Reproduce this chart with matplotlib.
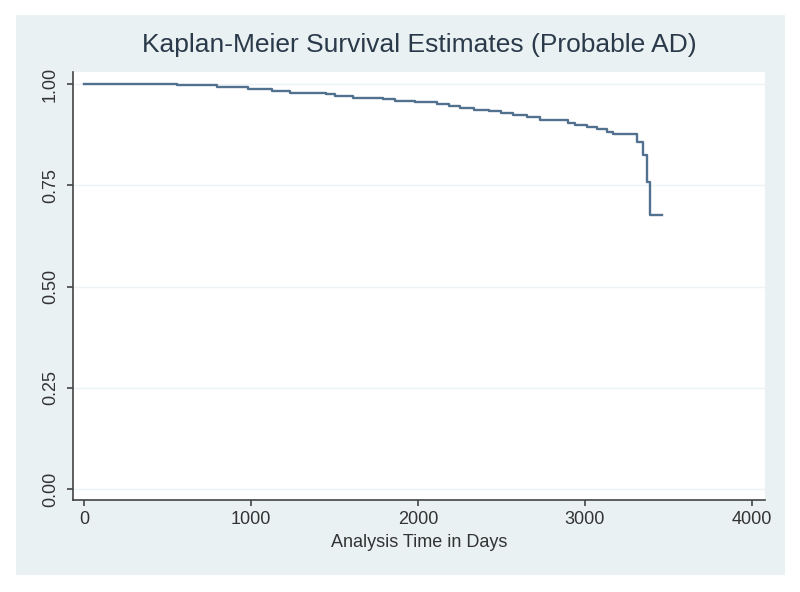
import matplotlib
matplotlib.use("Agg")
import matplotlib.pyplot as plt
from matplotlib.patches import Rectangle

# Data
times = [0, 557, 796, 982, 1126, 1234, 1449, 1503, 1611, 1790, 1862, 1982, 2114,
         2185, 2251, 2335, 2425, 2500, 2569, 2653, 2731, 2898, 2940, 3012, 3072,
         3132, 3168, 3311, 3347, 3371, 3389]
survival = [1.000, 0.997, 0.992, 0.987, 0.983, 0.979, 0.975, 0.970, 0.967, 0.963,
            0.959, 0.956, 0.950, 0.945, 0.941, 0.937, 0.933, 0.929, 0.924, 0.918,
            0.911, 0.904, 0.899, 0.893, 0.888, 0.882, 0.877, 0.858, 0.825, 0.759,
            0.677]
end_time = 3461
x_ticks = [0, 1000, 2000, 3000, 4000]
y_ticks = [0.00, 0.25, 0.50, 0.75, 1.00]
y_ticklabels = ["0.00", "0.25", "0.50", "0.75", "1.00"]
title = "Kaplan-Meier Survival Estimates (Probable AD)"
xlabel = "Analysis Time in Days"

plt.rcParams['font.family'] = ['Liberation Sans', 'DejaVu Sans']

W, H = 800, 592
fig = plt.figure(figsize=(W / 100, H / 100), dpi=100, facecolor='white')

bg_color = '#eaf1f3'
bg = Rectangle((16 / W, 1 - 575 / H), (785 - 16) / W, (575 - 15) / H,
               transform=fig.transFigure, facecolor=bg_color,
               edgecolor='none', zorder=-10)
fig.add_artist(bg)

ax = fig.add_axes([73 / W, 1 - 500 / H, (765 - 73) / W, (500 - 72) / H])
ax.set_zorder(5)
ax.set_facecolor('white')

xs = list(times) + [end_time]
ys = list(survival) + [survival[-1]]
ax.step(xs, ys, where='post', color='#52718f', linewidth=1.7, zorder=3)

ax.set_xlim(-66, 4078)
ax.set_ylim(-0.027, 1.03)
ax.set_xticks(x_ticks)
ax.set_yticks(y_ticks)
ax.set_yticklabels(y_ticklabels, rotation=90, va='center')
ax.grid(axis='y', color='#edf3f5', linewidth=1.0, zorder=1)
ax.grid(axis='x', visible=False)

for s in ['top', 'right']:
    ax.spines[s].set_visible(False)
for s in ['left', 'bottom']:
    ax.spines[s].set_color('#444444')
    ax.spines[s].set_linewidth(1.2)

ax.tick_params(axis='both', direction='out', length=4, width=1.2, color='#444444',
               labelsize=13, labelcolor='#333333', pad=4)
ax.tick_params(axis='y', pad=6)

ax.set_xlabel(xlabel, fontsize=13, color='#333333', labelpad=4)
fig.text(0.5 * (73 + 765) / W, 1 - 45 / H, title, ha='center', va='center',
         fontsize=19, color='#2b3a4a', zorder=6)

fig.savefig('out.png', dpi=100, facecolor='white')
